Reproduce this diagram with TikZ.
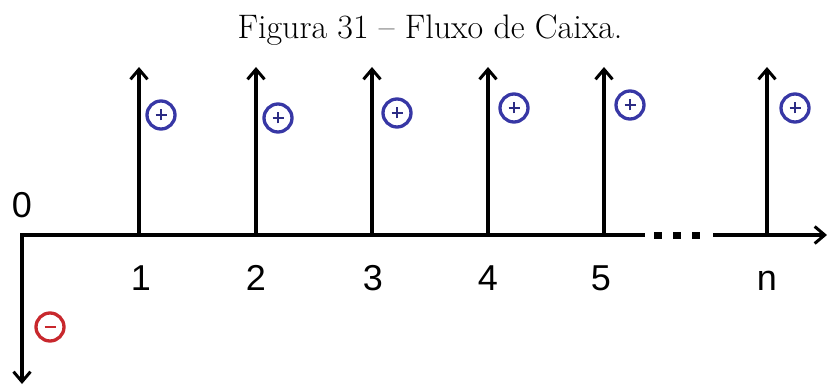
\documentclass[tikz,border=0pt]{standalone}
\usepackage{fontspec}
\newfontfamily\arial{Liberation Sans}
\usetikzlibrary{arrows.meta}
\definecolor{plusblue}{RGB}{55,55,165}
\definecolor{minusred}{RGB}{200,40,45}
\tikzset{
  flow/.style={line width=3.4pt, -{Straight Barb[length=10pt,width=17pt,line width=3pt]}},
  axisline/.style={line width=3.4pt},
  num/.style={font=\arial\fontsize{36}{36}\selectfont, inner sep=0pt},
  sign/.style={circle, draw=#1, line width=3.3pt, minimum size=28pt, inner sep=0pt},
  dot/.style={fill=black, minimum width=8pt, minimum height=7pt, inner sep=0pt},
}
\begin{document}
\begin{tikzpicture}[x=1pt,y=-1pt]
\useasboundingbox (0,0) rectangle (827,385);
\node[font=\fontsize{34}{34}\selectfont] (title) at (430,30) {Figura 31 -- Fluxo de Caixa.};
% axis
\coordinate (o) at (22,235);
\coordinate (e1) at (645,235);
\coordinate (s2) at (713,235);
\coordinate (end) at (827,235);
\coordinate (down) at (22,384);
\draw[axisline] ([xshift=-1.7pt]o) -- (e1);
\draw[flow] (s2) -- (end);
\draw[flow] ([yshift=-1.7pt]o) -- (down);
\node[dot] (d1) at (658,235) {};
\node[dot] (d2) at (677,235) {};
\node[dot] (d3) at (696,235) {};
% up arrows
\foreach \i/\x/\lab in {1/139/1,2/256/2,3/372/3,4/488/4,5/604/5,6/767/n}{
  \coordinate (b\i) at (\x,236);
  \coordinate (t\i) at (\x,67);
  \draw[flow] (b\i) -- (t\i);
}
\node[num] (l0) at (22,205) {0};
\node[num] (l1) at (141,278) {1};
\node[num] (l2) at (256,278) {2};
\node[num] (l3) at (373,278) {3};
\node[num] (l4) at (488,278) {4};
\node[num] (l5) at (601,278) {5};
\node[num] (l6) at (767,281) {n};
% signs
\foreach \i/\x/\y in {1/161/115,2/278/118,3/397/113,4/514/108,5/630/105,6/795/108}{
  \node[sign=plusblue] (p\i) at (\x,\y) {};
  \draw[plusblue!80!black, line width=1.2pt] ([xshift=-5.5pt]p\i.center) -- ([xshift=5.5pt]p\i.center)
     ([yshift=-5.5pt]p\i.center) -- ([yshift=5.5pt]p\i.center);
}
\node[sign=minusred] (m) at (50,327) {};
\draw[minusred, line width=1.2pt] ([xshift=-5.5pt]m.center) -- ([xshift=5.5pt]m.center);
\end{tikzpicture}
\end{document}
